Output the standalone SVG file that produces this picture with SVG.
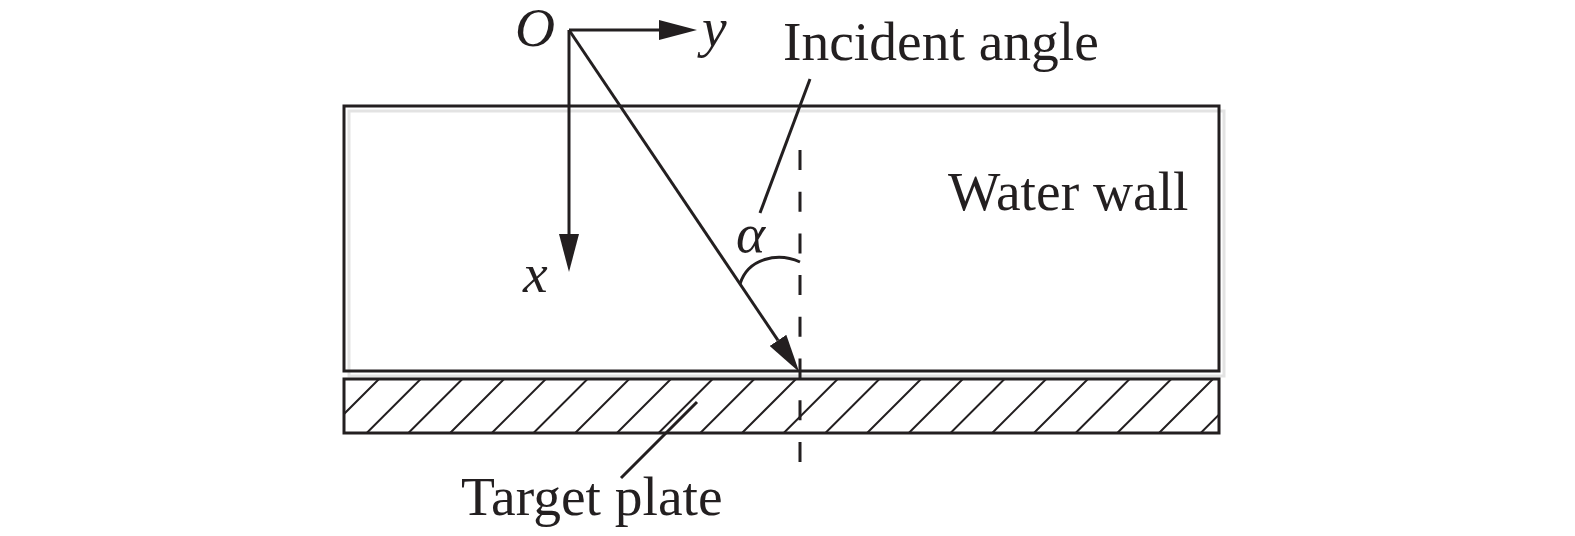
<svg xmlns="http://www.w3.org/2000/svg" width="1575" height="536" viewBox="0 0 1575 536">
<style>
.ln{stroke:#231f20;stroke-width:3;fill:none}
.hatch{stroke:#231f20;stroke-width:2;fill:none}
.txt{font-family:"Liberation Serif","Times New Roman",serif;font-size:55.5px;fill:#231f20}
.it{font-style:italic}
</style>
<defs>
<marker id="ah" viewBox="0 0 38 20" refX="0" refY="10" markerWidth="38" markerHeight="20" markerUnits="userSpaceOnUse" orient="auto">
<path d="M0,0 L38,10 L0,20 Z" fill="#231f20"/>
</marker>
<clipPath id="plateClip"><rect x="344" y="379" width="875" height="54"/></clipPath>
</defs>
<rect width="1575" height="536" fill="#ffffff"/>
<g id="water-wall">
<rect x="349" y="111" width="875" height="265" fill="none" stroke="#e3e3e3" stroke-width="3"/>
<rect x="344" y="106" width="875" height="265" class="ln"/>
<text x="948" y="210" class="txt">Water wall</text>
</g>
<g id="target-plate">
<g clip-path="url(#plateClip)" class="hatch">
<path d="M379,379 L325,433 M420.7,379 L366.7,433 M462.4,379 L408.4,433 M504.1,379 L450.1,433 M545.8,379 L491.8,433 M587.5,379 L533.5,433 M629.2,379 L575.2,433 M670.9,379 L616.9,433 M712.6,379 L658.6,433 M754.3,379 L700.3,433 M796,379 L742,433 M837.7,379 L783.7,433 M879.4,379 L825.4,433 M921.1,379 L867.1,433 M962.8,379 L908.8,433 M1004.5,379 L950.5,433 M1046.2,379 L992.2,433 M1087.9,379 L1033.9,433 M1129.6,379 L1075.6,433 M1171.3,379 L1117.3,433 M1213,379 L1159,433 M1254.7,379 L1200.7,433"/>
</g>
<rect x="344" y="379" width="875" height="54" class="ln"/>
<text x="461" y="515" class="txt">Target plate</text>
</g>
<g id="origin">
<text x="515" y="46" class="txt it">O</text>
<text x="702" y="46" class="txt it">y</text>
<text x="523" y="292" class="txt it">x</text>
</g>
<g id="angle">
<text x="736" y="252" class="txt it">α</text>
<text x="783" y="60" class="txt">Incident angle</text>
</g>
<g id="connectors">
<line x1="569" y1="30" x2="659" y2="30" class="ln" marker-end="url(#ah)"/>
<line x1="569" y1="30" x2="569" y2="234" class="ln" marker-end="url(#ah)"/>
<line x1="569" y1="30" x2="778" y2="340.4" class="ln" marker-end="url(#ah)"/>
<line x1="800" y1="150" x2="800" y2="462" class="ln" stroke-dasharray="20 21.7"/>
<path d="M740,284 C748,258 778,252 800,262" class="ln"/>
<line x1="810" y1="79" x2="760" y2="213" class="ln"/>
<line x1="697" y1="402" x2="621" y2="478" class="ln"/>
</g>
</svg>
